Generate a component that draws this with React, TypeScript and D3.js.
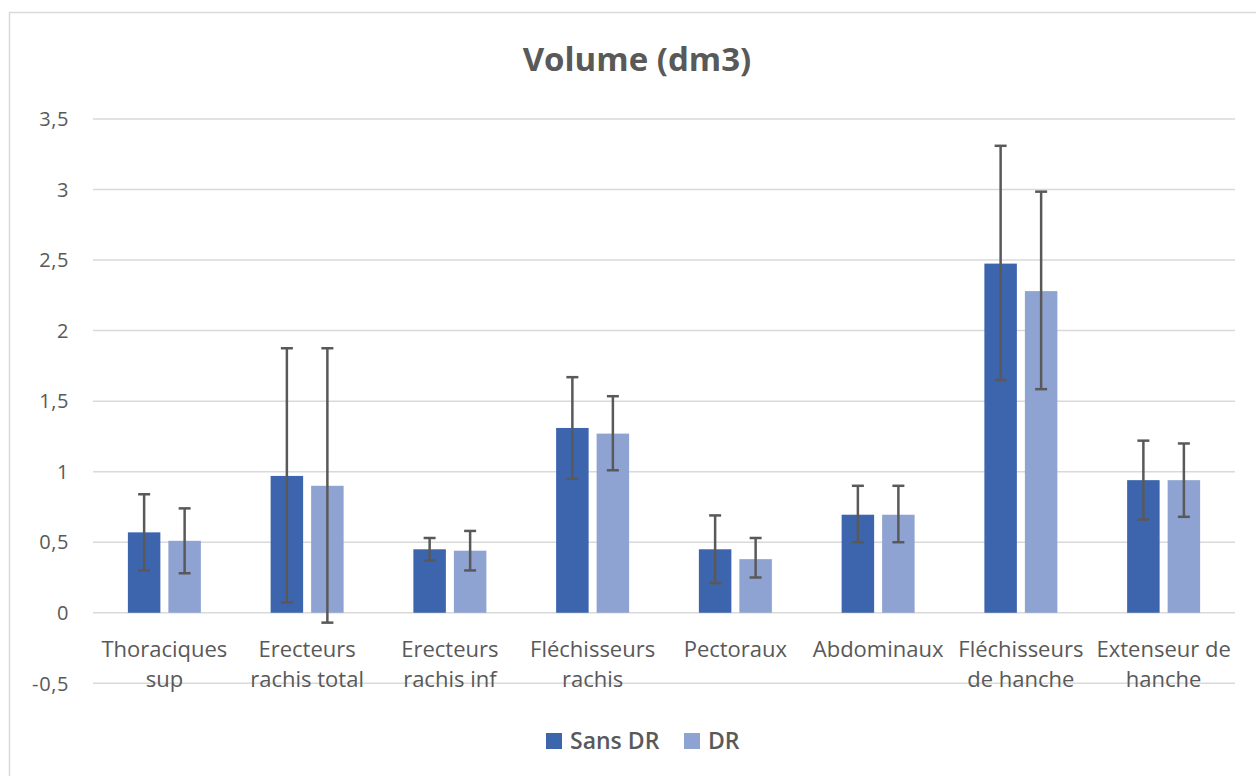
import React from "react";
import * as d3 from "d3";

const categories: string[][] = [
  ["Thoraciques", "sup"],
  ["Erecteurs", "rachis total"],
  ["Erecteurs", "rachis inf"],
  ["Fléchisseurs", "rachis"],
  ["Pectoraux"],
  ["Abdominaux"],
  ["Fléchisseurs", "de hanche"],
  ["Extenseur de", "hanche"],
];
const seriesNames = ["Sans DR", "DR"];
const sansDR = [0.57, 0.97, 0.45, 1.31, 0.45, 0.695, 2.475, 0.94];
const sansDRLow = [0.3, 0.074, 0.37, 0.95, 0.21, 0.5, 1.65, 0.66];
const sansDRHigh = [0.84, 1.875, 0.53, 1.67, 0.69, 0.9, 3.31, 1.22];
const dr = [0.51, 0.9, 0.44, 1.27, 0.38, 0.695, 2.28, 0.94];
const drLow = [0.28, -0.07, 0.3, 1.01, 0.25, 0.5, 1.585, 0.68];
const drHigh = [0.74, 1.875, 0.58, 1.535, 0.53, 0.9, 2.985, 1.2];
const yTicks = [-0.5, 0, 0.5, 1, 1.5, 2, 2.5, 3, 3.5];
const title = "Volume (dm3)";

const colors = ["#3D65AD", "#8FA3D3"];
const font = "'Open Sans', 'Noto Sans', sans-serif";

export default function App() {
  const W = 1256, H = 776;
  const left = 93, right = 1235, top = 119, bottom = 683.3;
  const x = d3.scaleBand<number>().domain(d3.range(categories.length)).range([left, right]);
  const y = d3.scaleLinear().domain([-0.5, 3.5]).range([bottom, top]);
  const barW = 32.5, gap = 8;
  const series = [
    { vals: sansDR, lo: sansDRLow, hi: sansDRHigh },
    { vals: dr, lo: drLow, hi: drHigh },
  ];
  const fmt = (v: number) => String(v).replace(".", ",");
  const barX = (i: number, s: number) => {
    const c = x(i)! + x.bandwidth() / 2;
    const total = barW * 2 + gap;
    return c - total / 2 + s * (barW + gap);
  };
  return (
    <svg width={W} height={H} style={{ position: "absolute", left: 0, top: 0 }}>
      <rect x={0} y={0} width={W} height={H} fill="#fff" />
      <rect x={9.5} y={12.5} width={W + 10} height={H + 10} fill="#fff" stroke="#d9d9d9" strokeWidth={1.5} />
      <text x={637} y={71} textAnchor="middle" fontFamily={font} fontWeight={700} fontSize={33} fill="#595959">{title}</text>
      {yTicks.map((t) => (
        <g key={t}>
          <line x1={left} x2={right} y1={y(t)} y2={y(t)} stroke="#d9d9d9" strokeWidth={1.5} />
          <text x={69} y={y(t)} dy="0.36em" textAnchor="end" fontFamily={font} fontSize={20} letterSpacing={0.6} fill="#595959">{fmt(t)}</text>
        </g>
      ))}
      {categories.map((cat, i) => (
        <text key={i} x={x(i)! + x.bandwidth() / 2} y={656.5} textAnchor="middle" fontFamily={font} fontSize={22} fill="#595959">
          {cat.map((line, k) => (
            <tspan key={k} x={x(i)! + x.bandwidth() / 2} dy={k === 0 ? 0 : 30}>{line}</tspan>
          ))}
        </text>
      ))}
      {series.map((s, si) =>
        s.vals.map((v, i) => (
          <rect key={`${si}-${i}`} x={barX(i, si)} y={y(Math.max(v, 0))} width={barW} height={Math.abs(y(v) - y(0))} fill={colors[si]} />
        ))
      )}
      {series.map((s, si) =>
        s.vals.map((v, i) => {
          const cx = barX(i, si) + barW / 2;
          return (
            <g key={`e${si}-${i}`} stroke="#595959" strokeWidth={2.5}>
              <line x1={cx} x2={cx} y1={y(s.lo[i])} y2={y(s.hi[i])} />
              <line x1={cx - 6} x2={cx + 6} y1={y(s.lo[i])} y2={y(s.lo[i])} />
              <line x1={cx - 6} x2={cx + 6} y1={y(s.hi[i])} y2={y(s.hi[i])} />
            </g>
          );
        })
      )}
      <g>
        <rect x={546} y={733} width={16} height={16} fill={colors[0]} />
        <text x={570} y={741} dy="0.36em" fontFamily={font} fontWeight={600} fontSize={23} fill="#595959">{seriesNames[0]}</text>
        <rect x={684} y={733} width={16} height={16} fill={colors[1]} />
        <text x={708} y={741} dy="0.36em" fontFamily={font} fontWeight={600} fontSize={23} fill="#595959">{seriesNames[1]}</text>
      </g>
    </svg>
  );
}
